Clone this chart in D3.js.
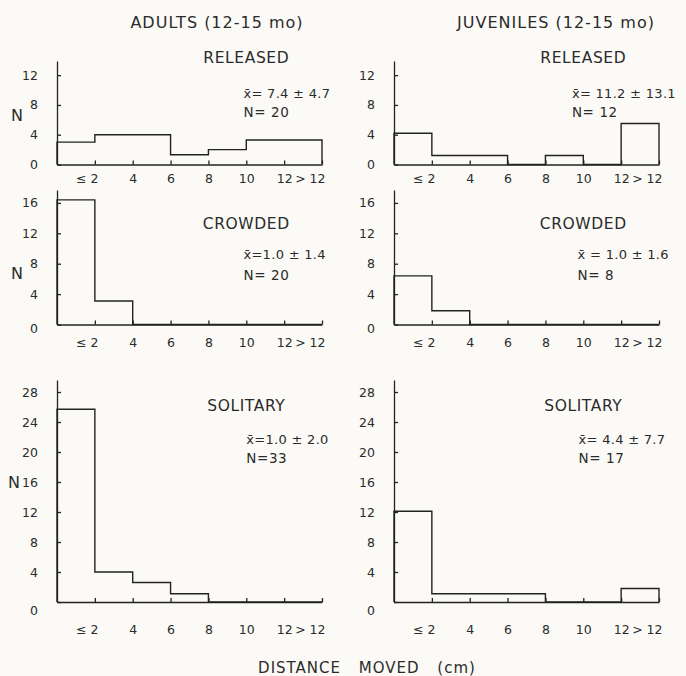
<!DOCTYPE html>
<html>
<head>
<meta charset="utf-8">
<script src="https://cdn.jsdelivr.net/npm/d3@7"></script>
<style>
  body { margin: 0; background: #fbfaf6; }
  svg { display: block; }
  text { font-family: "DejaVu Sans", sans-serif; fill: #2b2b2b; }
</style>
</head>
<body>
<svg id="chart" width="686" height="676"></svg>
<script>
// ---- data ----
const groups = ["ADULTS (12-15 mo)", "JUVENILES (12-15 mo)"];
const conditions = ["RELEASED", "CROWDED", "SOLITARY"];
const binEdges = [0, 2, 4, 6, 8, 10, 12, 14];
const xTickLabels = ["≤ 2", "4", "6", "8", "10", "12", "> 12"];

const adultsReleased   = [3.0, 4.0, 4.0, 1.3, 2.0, 3.3, 3.3];
const adultsCrowded    = [16.4, 3.1, 0, 0, 0, 0, 0];
const adultsSolitary   = [25.7, 4.0, 2.6, 1.1, 0, 0, 0];
const juvReleased      = [4.2, 1.2, 1.2, 0, 1.2, 0, 5.5];
const juvCrowded       = [6.4, 1.8, 0, 0, 0, 0, 0];
const juvSolitary      = [12.1, 1.1, 1.1, 1.1, 0, 0, 1.8];

const yMax   = [13.9, 17.7, 29.6];
const yTicks = [[0, 4, 8, 12], [0, 4, 8, 12, 16], [0, 4, 8, 12, 16, 20, 24, 28]];

const meanLines = [
  ["x\u0304= 7.4 ± 4.7", "x\u0304=1.0 ± 1.4", "x\u0304=1.0 ± 2.0"],
  ["x\u0304= 11.2 ± 13.1", "x\u0304 = 1.0 ± 1.6", "x\u0304= 4.4 ± 7.7"]
];
const nLines = [
  ["N= 20", "N= 20", "N=33"],
  ["N= 12", "N= 8", "N= 17"]
];

const counts = [
  [adultsReleased, adultsCrowded, adultsSolitary],
  [juvReleased, juvCrowded, juvSolitary]
];

// ---- layout ----
const colX = [[57, 322], [394, 659]];
const rowY = [[164.5, 61], [324.5, 190], [602, 380]];   // [zero, top]
const xLabelPad = [10, 14, 23];
const zeroDy = ["0.35em", "0.65em", "1.0em"];
const condY = [57, 223, 405];
const statY = [[93, 112], [254, 275], [439, 458]];
const statX = [[9.85, 9.85, 10], [9.4, 9.7, 9.75]];   // in bin units
const nLabel = [[17, 115], [17, 273], [14, 482]];

const svg = d3.select("#chart");

groups.forEach((g, c) => {
  svg.append("text")
    .attr("x", c === 0 ? 217 : 556)
    .attr("y", 28)
    .attr("text-anchor", "middle")
    .attr("font-size", 16)
    .attr("letter-spacing", 1)
    .text(g);
});

counts.forEach((col, c) => {
  col.forEach((vals, r) => {
    const x = d3.scaleLinear().domain([0, 14]).range(colX[c]);
    const y = d3.scaleLinear().domain([0, yMax[r]]).range(rowY[r]);
    const panel = svg.append("g");

    // y axis
    const ya = panel.append("g")
      .attr("transform", `translate(${colX[c][0]},0)`)
      .call(d3.axisLeft(y).tickValues(yTicks[r]).tickSize(-4).tickSizeOuter(0).tickPadding(19));
    ya.selectAll("text").attr("font-size", 12.5).attr("font-family", "DejaVu Sans").attr("fill", "#2b2b2b");
    ya.selectAll("text").filter(d => d === 0).attr("dy", zeroDy[r]);

    // x axis
    const xa = panel.append("g")
      .attr("transform", `translate(0,${rowY[r][0]})`)
      .call(d3.axisBottom(x).tickValues(binEdges.slice(1)).tickSize(-4).tickSizeOuter(0)
        .tickPadding(xLabelPad[r]).tickFormat((d, i) => xTickLabels[i]));
    xa.selectAll("text").attr("font-size", 12.5).attr("font-family", "DejaVu Sans").attr("fill", "#2b2b2b");
    xa.selectAll("text").filter(d => d === 2).attr("text-anchor", "end").attr("dx", 3);
    xa.selectAll("text").filter(d => d === 14).attr("text-anchor", "end").attr("dx", 3);

    [ya, xa].forEach(a => {
      a.selectAll("path, line").attr("stroke", "#222").attr("stroke-width", 1.3);
    });

    // histogram outline
    const pts = [[0, 0]].concat(vals.map((v, i) => [binEdges[i], v]), [[14, vals[6]], [14, 0]]);
    panel.append("path")
      .attr("d", d3.line().x(d => x(d[0])).y(d => y(d[1])).curve(d3.curveStepAfter)(pts))
      .attr("fill", "none")
      .attr("stroke", "#222")
      .attr("stroke-width", 1.4);

    // condition title
    panel.append("text")
      .attr("x", x(10))
      .attr("y", condY[r] + 5.5)
      .attr("text-anchor", "middle")
      .attr("font-size", 15.5)
      .attr("letter-spacing", 0.6)
      .text(conditions[r]);

    // stats
    panel.append("text")
      .attr("x", x(statX[c][r]))
      .attr("y", statY[r][0] + 4.5)
      .attr("font-size", 13)
      .attr("letter-spacing", 0.3)
      .text(meanLines[c][r]);
    panel.append("text")
      .attr("x", x(statX[c][r]))
      .attr("y", statY[r][1] + 5)
      .attr("font-size", 13.5)
      .attr("letter-spacing", 0.6)
      .text(nLines[c][r]);

    if (c === 0) {
      panel.append("text")
        .attr("x", nLabel[r][0])
        .attr("y", nLabel[r][1] + 5.5)
        .attr("text-anchor", "middle")
        .attr("font-size", 16)
        .text("N");
    }
  });
});

svg.append("text")
  .attr("x", 367)
  .attr("y", 673)
  .attr("text-anchor", "middle")
  .attr("font-size", 15)
  .attr("letter-spacing", 1)
  .attr("word-spacing", 12)
  .text("DISTANCE MOVED (cm)");
</script>
</body>
</html>
